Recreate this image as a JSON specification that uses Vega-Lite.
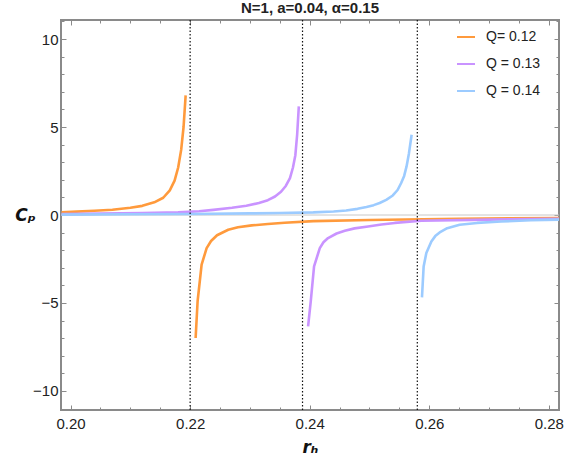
{
  "$schema": "https://vega.github.io/schema/vega-lite/v6.json",
  "width": 498,
  "height": 390,
  "autosize": "none",
  "padding": {"left": 61, "top": 20, "right": 8, "bottom": 51},
  "title": {"text": "N=1, a=0.04, α=0.15", "fontSize": 15, "font": "Liberation Sans", "fontWeight": "bold", "color": "#222222", "offset": 3},
  "config": {
    "view": {"stroke": "#8a8a8a", "strokeWidth": 2},
    "axis": {"domain": false, "grid": false, "tickColor": "#8a8a8a", "tickWidth": 1, "labelFont": "Liberation Sans", "labelFontSize": 15, "labelColor": "#222222", "titleFont": "DejaVu Sans", "titleColor": "#111111"}
  },
  "datasets": {
    "curves": [
      {"s": "Q= 0.12", "b": "o1", "rh": 0.1985, "Cp": 0.15},
      {"s": "Q= 0.12", "b": "o1", "rh": 0.2010, "Cp": 0.19},
      {"s": "Q= 0.12", "b": "o1", "rh": 0.2040, "Cp": 0.24},
      {"s": "Q= 0.12", "b": "o1", "rh": 0.2070, "Cp": 0.30},
      {"s": "Q= 0.12", "b": "o1", "rh": 0.2100, "Cp": 0.41},
      {"s": "Q= 0.12", "b": "o1", "rh": 0.2120, "Cp": 0.52},
      {"s": "Q= 0.12", "b": "o1", "rh": 0.2140, "Cp": 0.72},
      {"s": "Q= 0.12", "b": "o1", "rh": 0.2155, "Cp": 0.98},
      {"s": "Q= 0.12", "b": "o1", "rh": 0.2166, "Cp": 1.40},
      {"s": "Q= 0.12", "b": "o1", "rh": 0.2174, "Cp": 1.95},
      {"s": "Q= 0.12", "b": "o1", "rh": 0.2180, "Cp": 2.70},
      {"s": "Q= 0.12", "b": "o1", "rh": 0.2185, "Cp": 3.70},
      {"s": "Q= 0.12", "b": "o1", "rh": 0.2189, "Cp": 5.00},
      {"s": "Q= 0.12", "b": "o1", "rh": 0.21925, "Cp": 6.80},
      {"s": "Q= 0.12", "b": "o2", "rh": 0.22092, "Cp": -6.99},
      {"s": "Q= 0.12", "b": "o2", "rh": 0.22125, "Cp": -4.90},
      {"s": "Q= 0.12", "b": "o2", "rh": 0.22192, "Cp": -2.82},
      {"s": "Q= 0.12", "b": "o2", "rh": 0.22276, "Cp": -1.88},
      {"s": "Q= 0.12", "b": "o2", "rh": 0.22350, "Cp": -1.48},
      {"s": "Q= 0.12", "b": "o2", "rh": 0.22450, "Cp": -1.15},
      {"s": "Q= 0.12", "b": "o2", "rh": 0.22637, "Cp": -0.84},
      {"s": "Q= 0.12", "b": "o2", "rh": 0.2280, "Cp": -0.70},
      {"s": "Q= 0.12", "b": "o2", "rh": 0.2303, "Cp": -0.59},
      {"s": "Q= 0.12", "b": "o2", "rh": 0.2330, "Cp": -0.51},
      {"s": "Q= 0.12", "b": "o2", "rh": 0.2358, "Cp": -0.44},
      {"s": "Q= 0.12", "b": "o2", "rh": 0.2406, "Cp": -0.35},
      {"s": "Q= 0.12", "b": "o2", "rh": 0.2500, "Cp": -0.28},
      {"s": "Q= 0.12", "b": "o2", "rh": 0.2650, "Cp": -0.21},
      {"s": "Q= 0.12", "b": "o2", "rh": 0.2817, "Cp": -0.17},
      {"s": "Q = 0.13", "b": "p1", "rh": 0.1985, "Cp": 0.05},
      {"s": "Q = 0.13", "b": "p1", "rh": 0.2050, "Cp": 0.08},
      {"s": "Q = 0.13", "b": "p1", "rh": 0.2120, "Cp": 0.11},
      {"s": "Q = 0.13", "b": "p1", "rh": 0.2180, "Cp": 0.15},
      {"s": "Q = 0.13", "b": "p1", "rh": 0.2215, "Cp": 0.21},
      {"s": "Q = 0.13", "b": "p1", "rh": 0.2239, "Cp": 0.29},
      {"s": "Q = 0.13", "b": "p1", "rh": 0.2270, "Cp": 0.41},
      {"s": "Q = 0.13", "b": "p1", "rh": 0.2294, "Cp": 0.53},
      {"s": "Q = 0.13", "b": "p1", "rh": 0.2315, "Cp": 0.68},
      {"s": "Q = 0.13", "b": "p1", "rh": 0.2330, "Cp": 0.84},
      {"s": "Q = 0.13", "b": "p1", "rh": 0.2342, "Cp": 1.05},
      {"s": "Q = 0.13", "b": "p1", "rh": 0.2352, "Cp": 1.32},
      {"s": "Q = 0.13", "b": "p1", "rh": 0.2360, "Cp": 1.65},
      {"s": "Q = 0.13", "b": "p1", "rh": 0.2367, "Cp": 2.10},
      {"s": "Q = 0.13", "b": "p1", "rh": 0.2372, "Cp": 2.70},
      {"s": "Q = 0.13", "b": "p1", "rh": 0.2376, "Cp": 3.40},
      {"s": "Q = 0.13", "b": "p1", "rh": 0.2379, "Cp": 4.56},
      {"s": "Q = 0.13", "b": "p1", "rh": 0.23818, "Cp": 6.17},
      {"s": "Q = 0.13", "b": "p2", "rh": 0.23973, "Cp": -6.33},
      {"s": "Q = 0.13", "b": "p2", "rh": 0.24018, "Cp": -4.90},
      {"s": "Q = 0.13", "b": "p2", "rh": 0.24073, "Cp": -2.92},
      {"s": "Q = 0.13", "b": "p2", "rh": 0.24169, "Cp": -1.88},
      {"s": "Q = 0.13", "b": "p2", "rh": 0.24230, "Cp": -1.55},
      {"s": "Q = 0.13", "b": "p2", "rh": 0.24307, "Cp": -1.31},
      {"s": "Q = 0.13", "b": "p2", "rh": 0.24450, "Cp": -1.05},
      {"s": "Q = 0.13", "b": "p2", "rh": 0.24587, "Cp": -0.89},
      {"s": "Q = 0.13", "b": "p2", "rh": 0.24750, "Cp": -0.76},
      {"s": "Q = 0.13", "b": "p2", "rh": 0.24976, "Cp": -0.65},
      {"s": "Q = 0.13", "b": "p2", "rh": 0.2520, "Cp": -0.54},
      {"s": "Q = 0.13", "b": "p2", "rh": 0.25422, "Cp": -0.45},
      {"s": "Q = 0.13", "b": "p2", "rh": 0.25868, "Cp": -0.33},
      {"s": "Q = 0.13", "b": "p2", "rh": 0.2700, "Cp": -0.26},
      {"s": "Q = 0.13", "b": "p2", "rh": 0.2817, "Cp": -0.21},
      {"s": "Q = 0.14", "b": "q1", "rh": 0.1985, "Cp": 0.02},
      {"s": "Q = 0.14", "b": "q1", "rh": 0.2100, "Cp": 0.04},
      {"s": "Q = 0.14", "b": "q1", "rh": 0.2200, "Cp": 0.06},
      {"s": "Q = 0.14", "b": "q1", "rh": 0.2300, "Cp": 0.09},
      {"s": "Q = 0.14", "b": "q1", "rh": 0.2350, "Cp": 0.11},
      {"s": "Q = 0.14", "b": "q1", "rh": 0.2406, "Cp": 0.15},
      {"s": "Q = 0.14", "b": "q1", "rh": 0.2440, "Cp": 0.20},
      {"s": "Q = 0.14", "b": "q1", "rh": 0.2461, "Cp": 0.26},
      {"s": "Q = 0.14", "b": "q1", "rh": 0.2480, "Cp": 0.35},
      {"s": "Q = 0.14", "b": "q1", "rh": 0.2495, "Cp": 0.45},
      {"s": "Q = 0.14", "b": "q1", "rh": 0.2507, "Cp": 0.56},
      {"s": "Q = 0.14", "b": "q1", "rh": 0.2517, "Cp": 0.68},
      {"s": "Q = 0.14", "b": "q1", "rh": 0.2528, "Cp": 0.86},
      {"s": "Q = 0.14", "b": "q1", "rh": 0.2539, "Cp": 1.11},
      {"s": "Q = 0.14", "b": "q1", "rh": 0.2547, "Cp": 1.42},
      {"s": "Q = 0.14", "b": "q1", "rh": 0.2553, "Cp": 1.82},
      {"s": "Q = 0.14", "b": "q1", "rh": 0.2558, "Cp": 2.22},
      {"s": "Q = 0.14", "b": "q1", "rh": 0.2562, "Cp": 2.76},
      {"s": "Q = 0.14", "b": "q1", "rh": 0.2566, "Cp": 3.50},
      {"s": "Q = 0.14", "b": "q1", "rh": 0.25705, "Cp": 4.56},
      {"s": "Q = 0.14", "b": "q2", "rh": 0.25878, "Cp": -4.68},
      {"s": "Q = 0.14", "b": "q2", "rh": 0.25906, "Cp": -2.92},
      {"s": "Q = 0.14", "b": "q2", "rh": 0.25951, "Cp": -2.16},
      {"s": "Q = 0.14", "b": "q2", "rh": 0.26035, "Cp": -1.50},
      {"s": "Q = 0.14", "b": "q2", "rh": 0.26100, "Cp": -1.20},
      {"s": "Q = 0.14", "b": "q2", "rh": 0.26174, "Cp": -0.99},
      {"s": "Q = 0.14", "b": "q2", "rh": 0.26300, "Cp": -0.75},
      {"s": "Q = 0.14", "b": "q2", "rh": 0.26508, "Cp": -0.55},
      {"s": "Q = 0.14", "b": "q2", "rh": 0.2680, "Cp": -0.45},
      {"s": "Q = 0.14", "b": "q2", "rh": 0.2720, "Cp": -0.37},
      {"s": "Q = 0.14", "b": "q2", "rh": 0.2770, "Cp": -0.30},
      {"s": "Q = 0.14", "b": "q2", "rh": 0.2817, "Cp": -0.26}
    ],
    "poles": [
      {"rh": 0.2200, "lo": -11.08, "hi": 11.08},
      {"rh": 0.2388, "lo": -11.08, "hi": 11.08},
      {"rh": 0.2580, "lo": -11.08, "hi": 11.08}
    ],
    "zero": [
      {"rh": 0.1984, "Cp": 0},
      {"rh": 0.2817, "Cp": 0}
    ]
  },
  "resolve": {
    "scale": {"x": "shared", "y": "shared"},
    "axis": {"x": "independent", "y": "independent"}
  },
  "layer": [
    {
      "data": {"name": "zero"},
      "mark": {"type": "line", "color": "#c8c8c8", "strokeWidth": 1, "clip": true},
      "encoding": {
        "x": {"field": "rh", "type": "quantitative", "scale": {"domain": [0.1984, 0.2817], "nice": false, "zero": false},
              "axis": {"orient": "bottom", "title": null, "labels": false, "tickSize": -3, "values": [0.205, 0.21, 0.215, 0.225, 0.23, 0.235, 0.245, 0.25, 0.255, 0.265, 0.27, 0.275]}},
        "y": {"field": "Cp", "type": "quantitative", "scale": {"domain": [-11.08, 11.08], "nice": false, "zero": false},
              "axis": {"orient": "left", "title": null, "labels": false, "tickSize": -3, "values": [-11, -9, -8, -7, -6, -4, -3, -2, -1, 1, 2, 3, 4, 6, 7, 8, 9, 11]}}
      }
    },
    {
      "data": {"name": "zero"},
      "mark": {"type": "point", "opacity": 0, "size": 1},
      "encoding": {
        "x": {"field": "rh", "type": "quantitative", "scale": {"domain": [0.1984, 0.2817], "nice": false, "zero": false},
              "axis": {"orient": "top", "title": null, "labels": false, "tickSize": -3, "values": [0.205, 0.21, 0.215, 0.225, 0.23, 0.235, 0.245, 0.25, 0.255, 0.265, 0.27, 0.275]}},
        "y": {"field": "Cp", "type": "quantitative", "scale": {"domain": [-11.08, 11.08], "nice": false, "zero": false},
              "axis": {"orient": "right", "title": null, "labels": false, "tickSize": -3, "values": [-11, -9, -8, -7, -6, -4, -3, -2, -1, 1, 2, 3, 4, 6, 7, 8, 9, 11]}}
      }
    },
    {
      "data": {"name": "curves"},
      "mark": {"type": "line", "strokeWidth": 2.6, "clip": true, "strokeJoin": "round"},
      "encoding": {
        "x": {"field": "rh", "type": "quantitative", "scale": {"domain": [0.1984, 0.2817], "nice": false, "zero": false},
              "axis": {"orient": "bottom", "values": [0.2, 0.22, 0.24, 0.26, 0.28], "format": ".2f", "tickSize": -5, "labelPadding": 11,
                       "title": "rₕ", "titleFontSize": 17, "titleFontWeight": "bold", "titleFontStyle": "italic", "titleY": 37, "titleBaseline": "middle"}},
        "y": {"field": "Cp", "type": "quantitative", "scale": {"domain": [-11.08, 11.08], "nice": false, "zero": false},
              "axis": {"orient": "left", "values": [-10, -5, 0, 5, 10], "format": "d", "tickSize": -5, "labelPadding": 8,
                       "title": "Cₚ", "titleAngle": 0, "titleFontSize": 17, "titleFontWeight": "bold", "titleFontStyle": "italic",
                       "titleX": -36, "titleY": 195, "titleAlign": "center", "titleBaseline": "middle"}},
        "color": {"field": "s", "type": "nominal",
                  "scale": {"domain": ["Q= 0.12", "Q = 0.13", "Q = 0.14"], "range": ["#FF9A3C", "#C993FF", "#9CCBFF"]},
                  "legend": {"orient": "none", "legendX": 395, "legendY": 7, "title": null, "symbolType": "stroke", "symbolSize": 324,
                             "symbolStrokeWidth": 2, "labelFontSize": 14, "labelFont": "Liberation Sans", "labelColor": "#222222",
                             "labelOffset": 10, "rowPadding": 10, "padding": 0}},
        "detail": {"field": "b", "type": "nominal"}
      }
    },
    {
      "data": {"name": "poles"},
      "mark": {"type": "rule", "color": "#111111", "strokeWidth": 1.2, "strokeDash": [1.5, 2]},
      "encoding": {
        "x": {"field": "rh", "type": "quantitative", "scale": {"domain": [0.1984, 0.2817], "nice": false, "zero": false},
              "axis": {"orient": "top", "title": null, "labels": false, "tickSize": -5, "values": [0.2, 0.22, 0.24, 0.26, 0.28]}},
        "y": {"field": "lo", "type": "quantitative", "scale": {"domain": [-11.08, 11.08], "nice": false, "zero": false},
              "axis": {"orient": "right", "title": null, "labels": false, "tickSize": -5, "values": [-10, -5, 0, 5, 10]}},
        "y2": {"field": "hi"}
      }
    }
  ]
}
